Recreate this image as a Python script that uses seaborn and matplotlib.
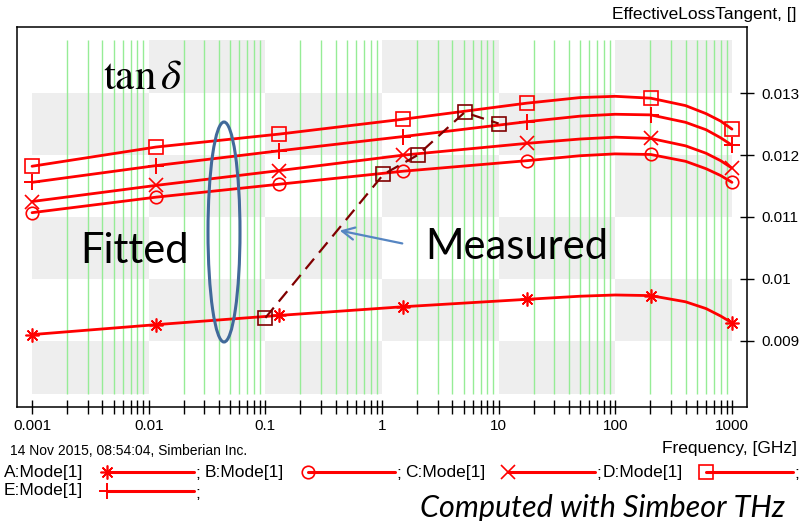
import numpy as np
import pandas as pd
import matplotlib
matplotlib.use("Agg")
import matplotlib.pyplot as plt
import seaborn as sns
from matplotlib.patches import Rectangle, Ellipse
from matplotlib.lines import Line2D

# ---- data -------------------------------------------------------------
freq_fit = [0.001, 0.0115, 0.132, 1.52, 17.5, 50, 100, 201, 400, 600, 800, 1000]
marker_idx = [0, 1, 2, 3, 4, 7, 11]

tan_a = [0.00910, 0.00926, 0.00941, 0.00955, 0.00967, 0.00972, 0.00974, 0.00973,
         0.00963, 0.00952, 0.00940, 0.00929]
tan_b = [0.01107, 0.01132, 0.01153, 0.01174, 0.01191, 0.01199, 0.01202, 0.01201,
         0.01190, 0.01178, 0.01167, 0.01156]
tan_c = [0.01125, 0.01151, 0.01175, 0.01200, 0.01219, 0.01226, 0.01229, 0.01227,
         0.01215, 0.01203, 0.01191, 0.01179]
tan_d = [0.01182, 0.01213, 0.01234, 0.01258, 0.01284, 0.01293, 0.01295, 0.01292,
         0.01280, 0.01267, 0.01255, 0.01242]
tan_e = [0.01156, 0.01183, 0.01207, 0.01230, 0.01254, 0.01263, 0.01266, 0.01265,
         0.01253, 0.01241, 0.01228, 0.01216]

freq_meas = [0.1, 1.03, 2.02, 5.1, 10.0]
tan_meas = [0.00937, 0.01169, 0.01200, 0.01269, 0.01251]

series_names = ["A:Mode[1]", "B:Mode[1]", "C:Mode[1]", "D:Mode[1]", "E:Mode[1]"]

x_major = [0.001, 0.01, 0.1, 1, 10, 100, 1000]
x_major_labels = ["0.001", "0.01", "0.1", "1", "10", "100", "1000"]
y_major = [0.009, 0.010, 0.011, 0.012, 0.013]
y_major_labels = ["0.009", "0.01", "0.011", "0.012", "0.013"]

# ---- styling ------------------------------------------------------------
sns.set_style("white")
plt.rcParams["font.family"] = ["Liberation Sans", "DejaVu Sans"]
plt.rcParams["mathtext.fontset"] = "stix"
for key in ("text.color", "xtick.color", "ytick.color", "axes.labelcolor",
            "axes.edgecolor"):
    plt.rcParams[key] = "black"

RED = "#ff0000"
MEAS = "#800000"
W, H = 810, 521


def P(x, y):
    """pixel position -> figure fraction"""
    return x / W, 1 - y / H


marker_styles = {
    "A:Mode[1]": dict(marker=(8, 2, 0), ms=10, mew=1.2),
    "B:Mode[1]": dict(marker="o", ms=9, mew=1.2),
    "C:Mode[1]": dict(marker="x", ms=10, mew=1.2),
    "D:Mode[1]": dict(marker="s", ms=10, mew=1.2),
    "E:Mode[1]": dict(marker="+", ms=12, mew=1.4),
}

fig = plt.figure(figsize=(W / 100, H / 100), dpi=100)
ax = fig.add_axes([17 / W, 1 - 407 / H, 730 / W, 380 / H])
ax.set_xscale("log")
ax.set_xlim(10 ** -3.129, 10 ** 3.129)
ax.set_ylim(0.00793, 0.01407)

# checkerboard background, one decade by 0.001 per cell
y_edges = [0.00814, 0.009, 0.010, 0.011, 0.012, 0.013, 0.01386]
for ci in range(6):
    x0, x1 = 10.0 ** (ci - 3), 10.0 ** (ci - 2)
    for ri in range(6):
        r_from_top = 5 - ri
        if (ci + r_from_top) % 2 == 1:
            ax.add_patch(Rectangle((x0, y_edges[ri]), x1 - x0,
                                   y_edges[ri + 1] - y_edges[ri],
                                   facecolor="#eeeeee", edgecolor="none", zorder=0))

# green minor grid lines
minor = [m * 10.0 ** d for d in range(-3, 3) for m in range(2, 10)]
ax.vlines(minor, y_edges[0], y_edges[-1], color="#96ec96", lw=1.0, zorder=1)

# fitted curves
df = pd.DataFrame({"freq": freq_fit, "A:Mode[1]": tan_a, "B:Mode[1]": tan_b,
                   "C:Mode[1]": tan_c, "D:Mode[1]": tan_d, "E:Mode[1]": tan_e})
for name in series_names:
    st = marker_styles[name]
    sns.lineplot(data=df, x="freq", y=name, ax=ax, color=RED, lw=2,
                 marker=st["marker"], markersize=st["ms"], markeredgewidth=st["mew"],
                 markerfacecolor="none", markeredgecolor=RED,
                 markevery=marker_idx, zorder=3)

# measured points
dm = pd.DataFrame({"freq": freq_meas, "tan": tan_meas})
sns.lineplot(data=dm, x="freq", y="tan", ax=ax, color=MEAS, lw=1.6,
             dashes=False, linestyle=(0, (6, 3.5)), marker="s", markersize=10,
             markeredgewidth=1.2, markerfacecolor="none", markeredgecolor=MEAS,
             zorder=4)

ax.set_xlabel("")
ax.set_ylabel("")

# axes, ticks
ax.set_xticks(x_major)
ax.set_xticklabels(x_major_labels)
ax.set_xticks(minor, minor=True)
ax.xaxis.set_minor_formatter(matplotlib.ticker.NullFormatter())
ax.yaxis.tick_right()
ax.set_yticks(y_major)
ax.set_yticklabels(y_major_labels)
ax.tick_params(axis="x", which="both", direction="inout", length=9.5, width=1,
               color="black", labelcolor="black", labelsize=11, pad=4,
               bottom=True, top=False)
ax.tick_params(axis="y", which="major", direction="inout", length=10, width=1,
               color="black", labelcolor="black", labelsize=11, pad=5,
               right=True, left=False)
ax.tick_params(axis="y", which="minor", right=False, left=False)
for sp in ax.spines.values():
    sp.set_visible(True)
    sp.set_color("black")
    sp.set_linewidth(1.1)
ax.grid(False)

# header / footer texts
fig.text(*P(797, 14), "EffectiveLossTangent, []", ha="right", va="center", fontsize=12.5)
fig.text(*P(797, 449), "Frequency, [GHz]", ha="right", va="center", fontsize=12.5)
fig.text(*P(10, 451), "14 Nov 2015, 08:54:04, Simberian Inc.", ha="left", va="center",
         fontsize=10)

# legend rows
legend_slots = [("A:Mode[1]", 4, 472), ("B:Mode[1]", 205, 472), ("C:Mode[1]", 405, 472),
                ("D:Mode[1]", 603, 472), ("E:Mode[1]", 4, 491)]
for name, lx, ly in legend_slots:
    st = marker_styles[name]
    fig.text(*P(lx, ly), name, ha="left", va="center", fontsize=12.5)
    xa, yl = P(lx + 103, ly)
    xb, _ = P(lx + 190, ly)
    fig.add_artist(Line2D([xa, xb], [yl, yl], color=RED, lw=2.2))
    fig.add_artist(Line2D([xa], [yl], marker=st["marker"], ms=st["ms"], mew=st["mew"],
                          mfc="none", mec=RED, ls="none"))
    fig.text(*P(lx + 191, ly + 2), ";", ha="left", va="center", fontsize=12.5)

# annotations
fig.text(*P(103, 89), r"$\tan\delta$", ha="left", va="baseline", fontsize=31)
fig.text(*P(80, 263), "Fitted", ha="left", va="baseline", fontsize=30,
         family=["Lato", "DejaVu Sans"])
fig.text(*P(425, 259), "Measured", ha="left", va="baseline", fontsize=30,
         family=["Lato", "DejaVu Sans"])
fig.text(*P(420, 517), "Computed with Simbeor THz", ha="left", va="baseline",
         fontsize=22, style="italic", family=["Lato", "DejaVu Sans"])

cx, cy = P(224, 232)
fig.add_artist(Ellipse((cx, cy), 32 / W, 220 / H, facecolor="none",
                       edgecolor="#41699a", lw=2.2, zorder=10))
fig.add_artist(matplotlib.patches.FancyArrowPatch(P(405, 244), P(337, 230),
               transform=fig.transFigure, arrowstyle="->", mutation_scale=22,
               color="#5585c2", lw=1.6, zorder=10))

fig.savefig("out.png", dpi=100)
